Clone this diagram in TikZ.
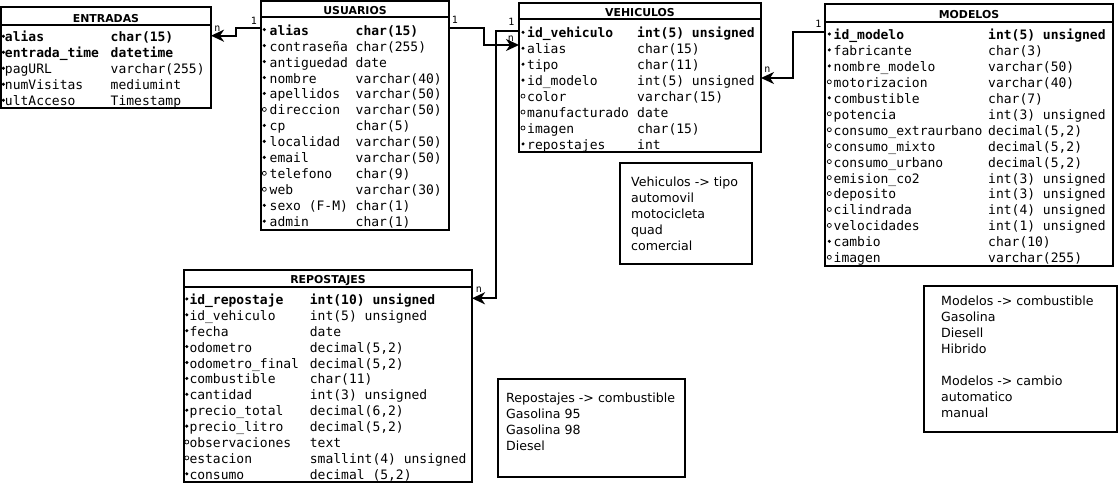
\documentclass[tikz,border=0pt]{standalone}
\usepackage{fontspec}
\setmainfont{DejaVu Sans}
\setmonofont{DejaVu Sans Mono}
\usetikzlibrary{arrows.meta}

\tikzset{
  tbl/.style={draw, line width=2pt, inner sep=0pt, outer sep=0pt, anchor=north west},
  hdr/.style={line width=2pt},
  ttl/.style={font=\fontsize{10.9}{12}\selectfont\bfseries, inner sep=0pt, anchor=base},
  fld/.style={font=\fontsize{13}{15}\selectfont\ttfamily, inner sep=0pt, anchor=base west},
  nn/.style={fill=black, radius=1.7pt},
  nl/.style={draw=black, line width=0.7pt, radius=2pt},
  rel/.style={line width=2pt, -{Stealth[length=13pt, width=12pt, inset=4pt]}},
  card/.style={font=\fontsize{10}{11}\selectfont\ttfamily, inner sep=0pt},
  note/.style={draw, line width=2pt, inner sep=0pt, outer sep=0pt, anchor=north west},
  notetxt/.style={font=\fontsize{12.6}{15}\selectfont, inner sep=0pt, anchor=base west},
}

% one attribute row: #1 name, #2 bullet (nn = not null, nl = nullable),
% #3 row index, #4 field, #5 type
\newcommand{\dbrow}[5]{%
  \path[#2] ({\rbx},{\ryo+\rys*#3-5.5}) circle;
  \node[fld] (#1f) at ({\rfx},{\ryo+\rys*#3}) {#4};
  \node[fld] (#1t) at ({\rtx},{\ryo+\rys*#3}) {#5};
}

\begin{document}
\begin{tikzpicture}[x=1pt, y=-1pt]
\useasboundingbox (0,0) rectangle (1120,484);

% ---------- ENTRADAS ----------
\node[tbl, minimum width=210pt, minimum height=100.7pt] (entradas) at (1,7.3) {};
\draw[hdr] (entradas.west |- 0,25) -- (entradas.east |- 0,25);
\node[ttl] (entradas-t) at (106,22.3) {ENTRADAS};
\def\rbx{3.4}\def\rfx{4.8}\def\rtx{110.5}\def\ryo{41.8}\def\rys{16}
\dbrow{e1}{nn}{0}{\bfseries alias}{\bfseries char(15)}
\dbrow{e2}{nn}{1}{\bfseries entrada\_time}{\bfseries datetime}
\dbrow{e3}{nn}{2}{pagURL}{varchar(255)}
\dbrow{e4}{nn}{3}{numVisitas}{mediumint}
\dbrow{e5}{nn}{4}{ultAcceso}{Timestamp}

% ---------- USUARIOS ----------
\node[tbl, minimum width=188pt, minimum height=229pt] (usuarios) at (261,1) {};
\draw[hdr] (usuarios.west |- 0,17.3) -- (usuarios.east |- 0,17.3);
\node[ttl] (usuarios-t) at (355,14.6) {USUARIOS};
\def\rbx{264.3}\def\rfx{269.5}\def\rtx{355.5}\def\ryo{35.1}\def\rys{15.97}
\dbrow{u1}{nn}{0}{\bfseries alias}{\bfseries char(15)}
\dbrow{u2}{nn}{1}{contraseña}{char(255)}
\dbrow{u3}{nn}{2}{antiguedad}{date}
\dbrow{u4}{nn}{3}{nombre}{varchar(40)}
\dbrow{u5}{nn}{4}{apellidos}{varchar(50)}
\dbrow{u6}{nl}{5}{direccion}{varchar(50)}
\dbrow{u7}{nn}{6}{cp}{char(5)}
\dbrow{u8}{nn}{7}{localidad}{varchar(50)}
\dbrow{u9}{nn}{8}{email}{varchar(50)}
\dbrow{u10}{nl}{9}{telefono}{char(9)}
\dbrow{u11}{nl}{10}{web}{varchar(30)}
\dbrow{u12}{nn}{11}{sexo (F-M)}{char(1)}
\dbrow{u13}{nn}{12}{admin}{char(1)}

% ---------- VEHICULOS ----------
\node[tbl, minimum width=242pt, minimum height=149pt] (vehiculos) at (519,3) {};
\draw[hdr] (vehiculos.west |- 0,19.3) -- (vehiculos.east |- 0,19.3);
\node[ttl] (vehiculos-t) at (640,16.6) {VEHICULOS};
\def\rbx{523}\def\rfx{527}\def\rtx{637}\def\ryo{37.8}\def\rys{15.95}
\dbrow{v1}{nn}{0}{\bfseries id\_vehiculo}{\bfseries int(5) unsigned}
\dbrow{v2}{nn}{1}{alias}{char(15)}
\dbrow{v3}{nn}{2}{tipo}{char(11)}
\dbrow{v4}{nn}{3}{id\_modelo}{int(5) unsigned}
\dbrow{v5}{nl}{4}{color}{varchar(15)}
\dbrow{v6}{nl}{5}{manufacturado}{date}
\dbrow{v7}{nl}{6}{imagen}{char(15)}
\dbrow{v8}{nn}{7}{repostajes}{int}

% ---------- MODELOS ----------
\node[tbl, minimum width=288pt, minimum height=262pt] (modelos) at (825,4) {};
\draw[hdr] (modelos.west |- 0,21.7) -- (modelos.east |- 0,21.7);
\node[ttl] (modelos-t) at (969,19) {MODELOS};
\def\rbx{829.3}\def\rfx{833.5}\def\rtx{988}\def\ryo{39.5}\def\rys{15.95}
\dbrow{m1}{nn}{0}{\bfseries id\_modelo}{\bfseries int(5) unsigned}
\dbrow{m2}{nn}{1}{fabricante}{char(3)}
\dbrow{m3}{nn}{2}{nombre\_modelo}{varchar(50)}
\dbrow{m4}{nl}{3}{motorizacion}{varchar(40)}
\dbrow{m5}{nn}{4}{combustible}{char(7)}
\dbrow{m6}{nl}{5}{potencia}{int(3) unsigned}
\dbrow{m7}{nl}{6}{consumo\_extraurbano}{decimal(5,2)}
\dbrow{m8}{nl}{7}{consumo\_mixto}{decimal(5,2)}
\dbrow{m9}{nl}{8}{consumo\_urbano}{decimal(5,2)}
\dbrow{m10}{nl}{9}{emision\_co2}{int(3) unsigned}
\dbrow{m11}{nl}{10}{deposito}{int(3) unsigned}
\dbrow{m12}{nl}{11}{cilindrada}{int(4) unsigned}
\dbrow{m13}{nl}{12}{velocidades}{int(1) unsigned}
\dbrow{m14}{nn}{13}{cambio}{char(10)}
\dbrow{m15}{nl}{14}{imagen}{varchar(255)}

% ---------- REPOSTAJES ----------
\node[tbl, minimum width=288pt, minimum height=212pt] (repostajes) at (184,270) {};
\draw[hdr] (repostajes.west |- 0,286.7) -- (repostajes.east |- 0,286.7);
\node[ttl] (repostajes-t) at (328,283.6) {REPOSTAJES};
\def\rbx{186.8}\def\rfx{189.3}\def\rtx{309.7}\def\ryo{304.4}\def\rys{15.9}
\dbrow{r1}{nn}{0}{\bfseries id\_repostaje}{\bfseries int(10) unsigned}
\dbrow{r2}{nn}{1}{id\_vehiculo}{int(5) unsigned}
\dbrow{r3}{nn}{2}{fecha}{date}
\dbrow{r4}{nn}{3}{odometro}{decimal(5,2)}
\dbrow{r5}{nn}{4}{odometro\_final}{decimal(5,2)}
\dbrow{r6}{nn}{5}{combustible}{char(11)}
\dbrow{r7}{nn}{6}{cantidad}{int(3) unsigned}
\dbrow{r8}{nn}{7}{precio\_total}{decimal(6,2)}
\dbrow{r9}{nn}{8}{precio\_litro}{decimal(5,2)}
\dbrow{r10}{nl}{9}{observaciones}{text}
\dbrow{r11}{nl}{10}{estacion}{smallint(4) unsigned}
\dbrow{r12}{nn}{11}{consumo}{decimal (5,2)}

% ---------- relationships ----------
\draw[rel] (usuarios.west |- 0,27.7) -| (236,35.7) -- (entradas.east |- 0,35.7);
\node[card] (c1-one) at (254,20.5) {1};
\node[card] (c1-many) at (217.5,28.3) {n};

\draw[rel] (usuarios.east |- 0,28.5) -| (483.5,45) -- (vehiculos.west |- 0,45);
\node[card] (c2-one) at (455,20) {1};
\node[card] (c2-many) at (511,38.8) {n};

\draw[rel] (vehiculos.west |- 0,31) -| (496,298.3) -- (repostajes.east |- 0,298.3);
\node[card] (c3-one) at (511.5,21.7) {1};
\node[card] (c3-many) at (479,290) {n};

\draw[rel] (modelos.west |- 0,31.7) -| (793,78) -- (vehiculos.east |- 0,78);
\node[card] (c4-one) at (818.3,23.5) {1};
\node[card] (c4-many) at (767.5,70) {n};

% ---------- value notes ----------
\node[note, minimum width=132pt, minimum height=101pt] (tipo-note) at (620,163) {};
\node[notetxt] (tn1) at (631,186.5) {Vehiculos -> tipo};
\node[notetxt] (tn2) at (631,202.5) {automovil};
\node[notetxt] (tn3) at (631,218.5) {motocicleta};
\node[notetxt] (tn4) at (631,234.5) {quad};
\node[notetxt] (tn5) at (631,250.5) {comercial};

\node[note, minimum width=193pt, minimum height=146pt] (modelos-note) at (924,286) {};
\node[notetxt] (mn1) at (941,305.5) {Modelos -> combustible};
\node[notetxt] (mn2) at (941,321.5) {Gasolina};
\node[notetxt] (mn3) at (941,337.5) {Diesell};
\node[notetxt] (mn4) at (941,353.5) {Hibrido};
\node[notetxt] (mn5) at (941,385.5) {Modelos -> cambio};
\node[notetxt] (mn6) at (941,401.5) {automatico};
\node[notetxt] (mn7) at (941,417.5) {manual};

\node[note, minimum width=187pt, minimum height=98pt] (repostajes-note) at (498,379) {};
\node[notetxt] (rn1) at (506,402) {Repostajes -> combustible};
\node[notetxt] (rn2) at (506,418) {Gasolina 95};
\node[notetxt] (rn3) at (506,434) {Gasolina 98};
\node[notetxt] (rn4) at (506,450) {Diesel};
\end{tikzpicture}
\end{document}
